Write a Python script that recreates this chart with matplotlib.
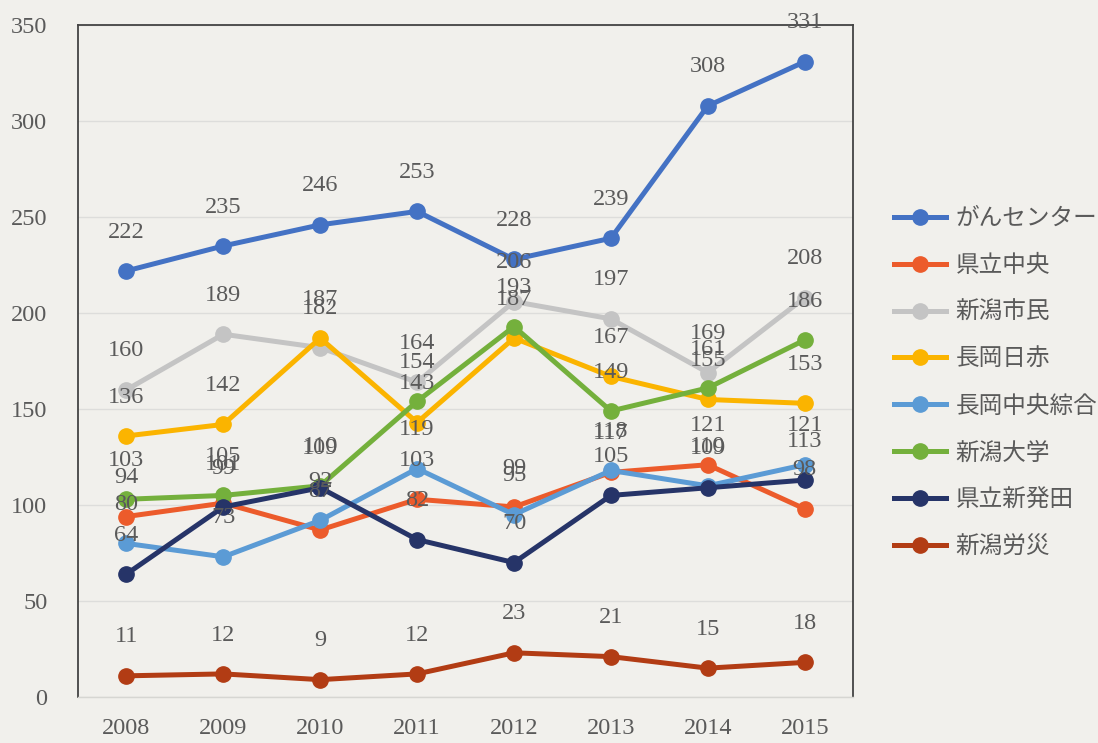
import matplotlib
matplotlib.use('Agg')
import matplotlib.pyplot as plt

years = ['2008', '2009', '2010', '2011', '2012', '2013', '2014', '2015']

# series values
gan_center = [222, 235, 246, 253, 228, 239, 308, 331]
kenritsu_chuo = [94, 101, 87, 103, 99, 117, 121, 98]
niigata_shimin = [160, 189, 182, 164, 206, 197, 169, 208]
nagaoka_sekijuji = [136, 142, 187, 143, 187, 167, 155, 153]
nagaoka_chuo = [80, 73, 92, 119, 95, 118, 110, 121]
niigata_daigaku = [103, 105, 110, 154, 193, 149, 161, 186]
kenritsu_shibata = [64, 99, 109, 82, 70, 105, 109, 113]
niigata_rousai = [11, 12, 9, 12, 23, 21, 15, 18]

series = [
    ('がんセンター', gan_center, '#4472c4'),
    ('県立中央', kenritsu_chuo, '#ec5b2b'),
    ('新潟市民', niigata_shimin, '#c4c4c4'),
    ('長岡日赤', nagaoka_sekijuji, '#fbb400'),
    ('長岡中央綜合', nagaoka_chuo, '#5b9bd5'),
    ('新潟大学', niigata_daigaku, '#74b03c'),
    ('県立新発田', kenritsu_shibata, '#263468'),
    ('新潟労災', niigata_rousai, '#b23c14'),
]

plt.rcParams['font.family'] = ['Liberation Serif', 'Noto Sans CJK JP']
bg = '#f1f0ec'
text_color = '#5a5a5a'

fig = plt.figure(figsize=(10.98, 7.43), dpi=100, facecolor=bg)
ax = fig.add_axes([0.071, 0.062, 0.706, 0.904], facecolor=bg)

x = list(range(len(years)))
for name, vals, color in series:
    ax.plot(x, vals, color=color, linewidth=3.6, marker='o', markersize=11,
            label=name, zorder=3)
    for xi, v in zip(x, vals):
        ax.annotate(str(v), (xi, v), xytext=(0, 28), textcoords='offset points',
                    ha='center', va='center', fontsize=17.5, color=text_color,
                    zorder=4)

ax.set_xlim(-0.5, len(years) - 0.5)
ax.set_ylim(0, 350)
ax.set_yticks(range(0, 351, 50))
ax.set_xticks(x)
ax.set_xticklabels(years)
ax.tick_params(axis='both', length=0, labelsize=17.5, labelcolor=text_color)
ax.tick_params(axis='y', pad=22)
ax.tick_params(axis='x', pad=15)
ax.grid(axis='y', color='#dddddb', linewidth=1)
ax.set_axisbelow(True)
ax.spines['top'].set_color('#444444')
ax.spines['left'].set_color('#444444')
ax.spines['right'].set_color('#444444')
ax.spines['bottom'].set_color('#d6d6d2')
for s in ax.spines.values():
    s.set_linewidth(1.3)
ax.spines['bottom'].set_linewidth(1)

fig.legend(loc='upper left', bbox_to_anchor=(0.795, 0.748), frameon=False,
           fontsize=17, labelspacing=1.05, handlelength=2.2,
           handletextpad=0.4, labelcolor=text_color)

fig.savefig('out.png', dpi=100, facecolor=bg)
